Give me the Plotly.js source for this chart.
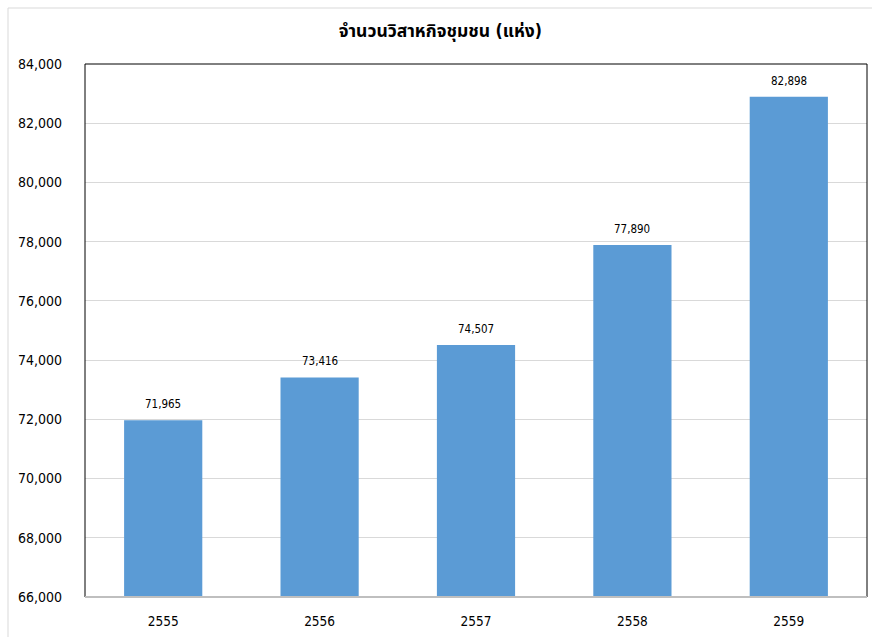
<!DOCTYPE html>
<html><head><meta charset="utf-8">
<script src="https://cdn.plot.ly/plotly-3.0.1.min.js"></script>
<style>body{margin:0;background:#fff}#c{width:872px;height:637px}</style>
</head><body><div id="c"></div>
<script>
const years = ['2555','2556','2557','2558','2559'];
const counts = [71965, 73416, 74507, 77890, 82898];
const tickVals = [66000,68000,70000,72000,74000,76000,78000,80000,82000,84000];
const labels = counts.map(v => v.toLocaleString('en-US'));

const L=85, R=5, T=64, B=40, W=872, H=637;
const pw = W-L-R, ph = H-T-B;
const px = v => (v-L)/pw, py = v => 1-(v-T)/ph;
const FONT = 'Tahoma, "DejaVu Sans Condensed", "Noto Sans Thai", sans-serif';

Plotly.newPlot('c', [{
  type:'bar', x: years, y: counts,
  marker:{color:'#5b9bd5'}, hoverinfo:'none'
}], {
  width:W, height:H, margin:{l:L, r:R, t:T, b:B},
  paper_bgcolor:'#fff', plot_bgcolor:'#fff', showlegend:false, bargap:0.5,
  font:{family:FONT, color:'#000'},
  title:{text:'<b>จำนวนวิสาหกิจชุมชน (แห่ง)</b>', x:0.505, xref:'container', y:0.951, yref:'container', yanchor:'middle', font:{size:17.5, color:'#000'}},
  xaxis:{type:'category', categoryorder:'array', categoryarray:years, range:[-0.5, years.length-0.5], showgrid:false, showline:false, ticks:'', tickfont:{size:13.5}, ticklabelstandoff:14},
  yaxis:{range:[66000,84000], tickvals:tickVals, ticktext:tickVals.map(v=>v.toLocaleString('en-US')),
    showgrid:true, gridcolor:'#d9d9d9', gridwidth:1, zeroline:false, showline:false, ticks:'', tickfont:{size:14}, ticklabelstandoff:22},
  annotations: years.map((yr,i)=>({x:i, y:counts[i], xref:'x', yref:'y', text:labels[i], showarrow:false, yanchor:'bottom', yshift:7, font:{size:11.5, color:'#000'}})),
  shapes:[
    {type:'rect', xref:'paper', yref:'paper', x0:px(8), x1:px(880), y0:py(8), y1:py(660), line:{color:'#d9d9d9', width:1}, layer:'below'},
    {type:'line', xref:'paper', yref:'paper', x0:0, x1:0, y0:0, y1:1, line:{color:'#000', width:1}},
    {type:'line', xref:'paper', yref:'paper', x0:0, x1:1, y0:1, y1:1, line:{color:'#000', width:1}},
    {type:'line', xref:'paper', yref:'paper', x0:1, x1:1, y0:0, y1:1, line:{color:'#000', width:1}},
    {type:'line', xref:'paper', yref:'paper', x0:0, x1:1, y0:0, y1:0, line:{color:'#bfbfbf', width:2}}
  ]
}, {displayModeBar:false});
</script></body></html>
